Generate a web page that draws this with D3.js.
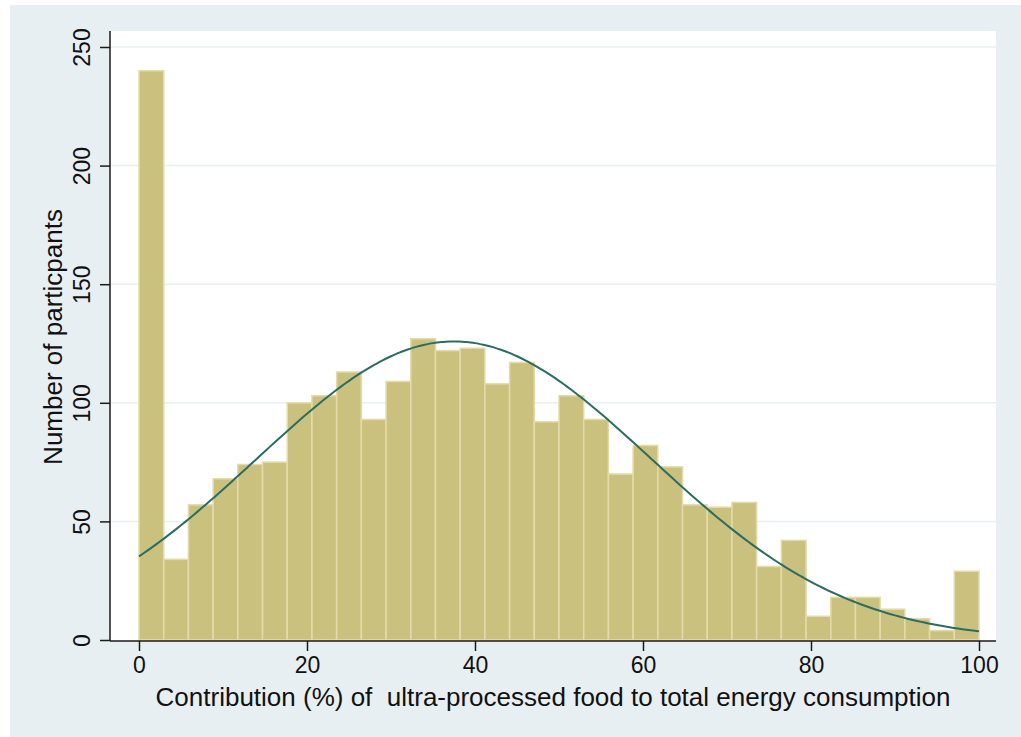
<!DOCTYPE html>
<html>
<head>
<meta charset="utf-8">
<script src="https://cdn.jsdelivr.net/npm/d3@7"></script>
<style>
  body { margin: 0; background: #fff; }
  text { font-family: "Liberation Sans", Arial, sans-serif; fill: #111; }
</style>
</head>
<body>
<svg width="1021" height="737"></svg>
<script>
// histogram counts, 34 equal bins from 0 to 100
var counts = [240, 34, 57, 68, 74, 75, 100, 103, 113, 93, 109, 127, 122, 123, 108, 117, 92,
              103, 93, 70, 82, 73, 57, 56, 58, 31, 42, 10, 18, 18, 13, 9, 4, 29];
var xTicks = [0, 20, 40, 60, 80, 100];
var yTicks = [0, 50, 100, 150, 200, 250];
// fitted normal curve
var curveMean = 37.5, curveSD = 23.5;

var svg = d3.select("svg");

svg.append("rect").attr("x", 10).attr("y", 5).attr("width", 1011).attr("height", 732)
    .attr("fill", "#e8eff2");

var plot = { left: 110, right: 996, top: 31, bottom: 641 };

svg.append("rect").attr("x", plot.left).attr("y", plot.top)
    .attr("width", plot.right - plot.left).attr("height", plot.bottom - plot.top)
    .attr("fill", "#fff");

var x = d3.scaleLinear().domain([0, 100]).range([139, 979]);
var y = d3.scaleLinear().domain([0, 250]).range([640, 47]);

// gridlines
svg.append("g").selectAll("line")
  .data(yTicks.filter(function(d) { return d > 0; }))
  .enter().append("line")
    .attr("x1", plot.left).attr("x2", plot.right)
    .attr("y1", function(d) { return y(d); }).attr("y2", function(d) { return y(d); })
    .attr("stroke", "#e9eff1").attr("stroke-width", 1.5);

var binWidth = 100 / counts.length;

svg.append("g").selectAll("rect")
  .data(counts)
  .enter().append("rect")
    .attr("x", function(d, i) { return x(i * binWidth); })
    .attr("width", function(d, i) { return x((i + 1) * binWidth) - x(i * binWidth); })
    .attr("y", function(d) { return y(d); })
    .attr("height", function(d) { return y(0) - y(d); })
    .attr("fill", "#cac17f")
    .attr("stroke", "#e3dcaa")
    .attr("stroke-width", 1.5);

// normal density scaled to counts
var total = d3.sum(counts);
function density(v) {
  return total * binWidth / (curveSD * Math.sqrt(2 * Math.PI)) *
    Math.exp(-Math.pow(v - curveMean, 2) / (2 * curveSD * curveSD));
}
var line = d3.line()
    .x(function(d) { return x(d); })
    .y(function(d) { return y(density(d)); })
    .curve(d3.curveBasis);

svg.append("path")
    .datum(d3.range(0, 100.5, 0.5))
    .attr("d", line)
    .attr("fill", "none")
    .attr("stroke", "#2c6c61")
    .attr("stroke-width", 2);

// axes
var xAxis = d3.axisBottom(x).tickValues(xTicks).tickSize(10).tickPadding(6);
var gx = svg.append("g").attr("transform", "translate(0," + plot.bottom + ")").call(xAxis);
gx.select(".domain").attr("d", "M" + plot.left + ",0H" + plot.right);
gx.selectAll("text").style("font-size", "23px").attr("fill", "#111");

var yAxis = d3.axisLeft(y).tickValues(yTicks).tickSize(10).tickPadding(0);
var gy = svg.append("g").attr("transform", "translate(" + plot.left + ",0)").call(yAxis);
gy.select(".domain").attr("d", "M0," + plot.top + "V" + plot.bottom);
gy.selectAll("text")
    .style("font-size", "23px").attr("fill", "#111")
    .attr("x", null).attr("dy", null)
    .attr("text-anchor", "middle")
    .attr("transform", "translate(-20,0) rotate(-90)");

svg.selectAll(".domain, .tick line").attr("stroke", "#1a1a1a").attr("stroke-width", 1.5);

svg.append("text")
    .attr("x", (plot.left + plot.right) / 2).attr("y", 706)
    .attr("text-anchor", "middle")
    .style("font-size", "26px")
    .text("Contribution (%) of \u00a0ultra-processed food to total energy consumption");

svg.append("text")
    .attr("transform", "translate(62,337) rotate(-90)")
    .attr("text-anchor", "middle")
    .style("font-size", "26px")
    .text("Number of particpants");
</script>
</body>
</html>
